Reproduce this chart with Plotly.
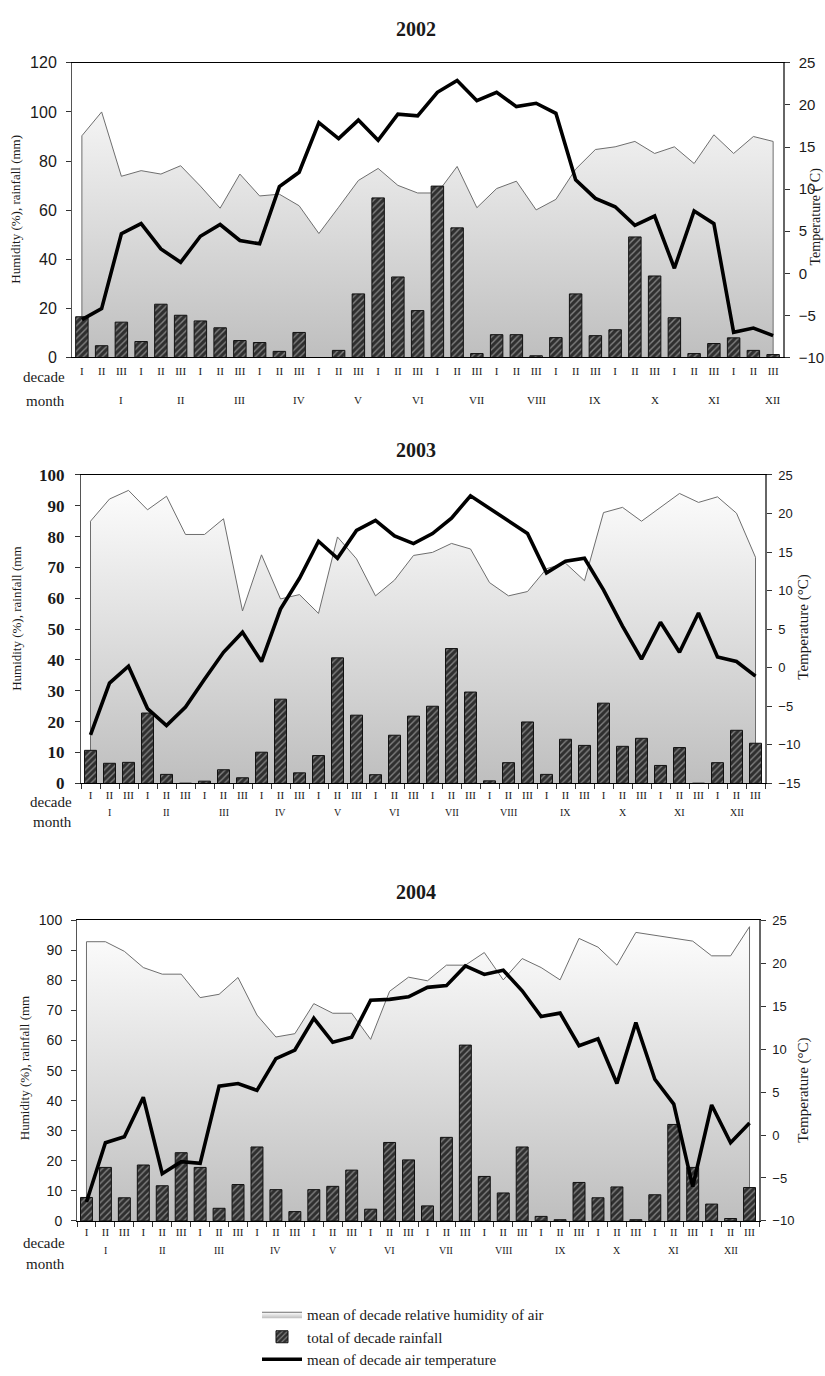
import plotly.graph_objects as go

W, H = 825, 1376

# ---- category labels -------------------------------------------------------
decade_labels = ["I", "II", "III"] * 12
month_labels = ["I", "II", "III", "IV", "V", "VI", "VII", "VIII", "IX", "X", "XI", "XII"]

# ---- 2002 ------------------------------------------------------------------
hum_2002 = [90.3, 100.0, 73.8, 76.1, 74.7, 78.1, 69.8, 60.8, 74.7, 65.8,
            66.5, 61.8, 50.5, 61.2, 72.1, 77.0, 70.1, 67.0, 67.0, 77.8,
            61.0, 68.8, 71.8, 60.1, 64.4, 76.7, 84.7, 85.8, 88.0, 83.1,
            85.8, 79.0, 90.7, 83.1, 90.0, 88.0]
rain_2002 = [16.6, 4.8, 14.4, 6.5, 21.7, 17.2, 14.9, 12.1, 6.9, 6.1,
             2.5, 10.2, 0.0, 2.9, 25.9, 65.0, 32.8, 19.1, 69.8, 52.8,
             1.6, 9.3, 9.3, 0.7, 8.1, 25.9, 8.9, 11.3, 49.1, 33.2,
             16.2, 1.6, 5.7, 8.0, 2.9, 1.2]
temp_2002 = [-5.5, -4.2, 4.7, 5.9, 2.9, 1.3, 4.4, 5.8, 3.9, 3.5,
             10.3, 12.0, 17.9, 16.0, 18.2, 15.8, 18.9, 18.7, 21.5, 22.9,
             20.5, 21.5, 19.8, 20.2, 19.0, 11.1, 8.9, 7.9, 5.7, 6.8,
             0.6, 7.4, 5.9, -7.0, -6.5, -7.4]

# ---- 2003 ------------------------------------------------------------------
hum_2003 = [85.0, 92.2, 95.0, 88.7, 93.1, 80.7, 80.7, 85.8, 55.9, 74.1,
            59.8, 61.2, 55.1, 79.9, 72.8, 60.8, 65.9, 73.9, 74.9, 77.8,
            76.0, 65.1, 60.8, 62.2, 69.6, 71.4, 65.7, 87.8, 89.5, 85.0,
            89.5, 94.0, 91.1, 92.9, 87.6, 73.3]
rain_2003 = [10.7, 6.5, 6.8, 22.8, 2.9, 0.0, 0.7, 4.4, 1.8, 10.1,
             27.3, 3.4, 9.0, 40.7, 22.1, 2.8, 15.6, 21.8, 25.0, 43.7,
             29.6, 0.8, 6.7, 19.9, 2.9, 14.3, 12.3, 26.0, 12.0, 14.6,
             5.8, 11.6, 0.0, 6.7, 17.2, 13.0]
temp_2003 = [-8.7, -2.0, 0.2, -5.3, -7.5, -5.1, -1.5, 2.0, 4.6, 0.8,
             7.6, 11.6, 16.4, 14.2, 17.8, 19.1, 17.1, 16.1, 17.4, 19.4,
             22.3, 20.7, 19.1, 17.4, 12.3, 13.8, 14.2, 10.1, 5.4, 1.1,
             5.9, 2.0, 7.1, 1.4, 0.8, -1.1]

# ---- 2004 ------------------------------------------------------------------
hum_2004 = [92.9, 92.9, 89.7, 84.3, 82.1, 82.1, 74.3, 75.4, 81.0, 68.5,
            61.2, 62.3, 72.3, 69.1, 69.1, 60.4, 76.4, 81.1, 79.9, 85.1,
            85.1, 89.3, 80.2, 87.3, 84.3, 80.2, 94.0, 91.1, 85.1, 96.0,
            95.1, 94.1, 93.1, 88.2, 88.2, 97.9]
rain_2004 = [7.8, 17.8, 7.7, 18.6, 11.7, 22.7, 17.8, 4.2, 12.1, 24.6,
             10.4, 3.1, 10.4, 11.5, 16.9, 3.9, 26.1, 20.3, 5.0, 27.8,
             58.5, 14.8, 9.3, 24.6, 1.5, 0.4, 12.8, 7.7, 11.3, 0.4,
             8.7, 32.1, 17.8, 5.6, 0.8, 11.1]
temp_2004 = [-7.8, -0.9, -0.2, 4.4, -4.5, -3.1, -3.3, 5.7, 6.0, 5.2,
             8.9, 9.9, 13.6, 10.8, 11.4, 15.7, 15.8, 16.1, 17.2, 17.4,
             19.7, 18.7, 19.2, 16.8, 13.8, 14.2, 10.4, 11.2, 6.0, 13.1,
             6.5, 3.6, -6.0, 3.5, -0.9, 1.4]

SERIF = "Liberation Serif, Times New Roman, serif"
NARROW = "Liberation Sans Narrow, Arial Narrow, Liberation Sans, sans-serif"
INK = "#1a1a1a"


def px(xp):
    return xp / W


def py(yp):
    return 1 - yp / H


panels = [
    dict(year="2002", hum=hum_2002, rain=rain_2002, temp=temp_2002,
         xdom=(72, 783), ydom=(55, 356), lrange=(0, 120), ldtick=20, rrange=(-10, 25),
         title_y=20, month_pos=2, decade_y=373, decade_word_y=376, month_y=399, month_word_y=400,
         words_x=67,
         ytitle="Humidity (%), rainfall (mm)", ytitle_xy=(16, 205),
         rtitle="Temperature (˚C)", rtitle_xy=(816, 212), rtitle_size=14,
         lfont=dict(family=NARROW, size=16, color=INK), rfont=dict(family=NARROW, size=15, color=INK),
         lstand=6, rstand=6, xticks=False, month_size=11),
    dict(year="2003", hum=hum_2003, rain=rain_2003, temp=temp_2003,
         xdom=(81, 765), ydom=(476, 791), lrange=(0, 100), ldtick=10, rrange=(-15, 25),
         title_y=450, month_pos=1, decade_y=806, decade_word_y=810, month_y=821, month_word_y=831,
         words_x=74,
         ytitle="Humidity (%), rainfall (mm", ytitle_xy=(17, 623),
         rtitle="Temperature (°C)", rtitle_xy=(804, 632), rtitle_size=15,
         lfont=dict(family=SERIF, size=17, color=INK, weight="bold"),
         rfont=dict(family=NARROW, size=13, color=INK),
         lstand=7, rstand=4, xticks=True, month_size=10),
    dict(year="2004", hum=hum_2004, rain=rain_2004, temp=temp_2004,
         xdom=(77, 759), ydom=(931, 1238), lrange=(0, 100), ldtick=10, rrange=(-10, 25),
         title_y=902, month_pos=1, decade_y=1253, decade_word_y=1261, month_y=1268, month_word_y=1282,
         words_x=67,
         ytitle="Humidity (%), rainfall (mm", ytitle_xy=(24, 1082),
         rtitle="Temperature (°C)", rtitle_xy=(804, 1105), rtitle_size=15,
         lfont=dict(family=NARROW, size=14, color=INK), rfont=dict(family=NARROW, size=13, color=INK),
         lstand=6, rstand=4, xticks=True, month_size=10),
]


def axis_name(kind, k):
    return kind if k == 1 else f"{kind}{k}"


def axis_key(kind, k):
    return f"{kind}axis" if k == 1 else f"{kind}axis{k}"


fig = go.Figure()
annotations = []
layout = {}
n = len(decade_labels)
idx = list(range(n))


def note(text, x, y, size, xref="paper", angle=0, xanchor="center", family=SERIF):
    annotations.append(dict(text=text, xref=xref, yref="paper", x=x, y=y,
                            xanchor=xanchor, yanchor="middle", textangle=angle,
                            showarrow=False, font=dict(family=family, size=size, color=INK)))


for i, p in enumerate(panels):
    xa = axis_name("x", i + 1)
    yl = axis_name("y", 3 * i + 1)   # humidity / rainfall scale (visible, left)
    yb = axis_name("y", 3 * i + 2)   # same scale, hidden, so bars sit above the area fill
    yr = axis_name("y", 3 * i + 3)   # temperature scale (right)
    first = i == 0

    # humidity: area under the line with a vertical grey gradient
    fig.add_trace(go.Scatter(
        x=[idx[0]] + idx + [idx[-1]], y=[0] + p["hum"] + [0],
        mode="lines", line=dict(color="#6e6e6e", width=1),
        fill="tozeroy",
        fillgradient=dict(type="vertical", start=p["lrange"][0], stop=p["lrange"][1],
                          colorscale=[[0, "#bebebe"], [1, "#ffffff"]]),
        name="mean of decade relative humidity of air",
        legendrank=1, showlegend=first, xaxis=xa, yaxis=yl, hoverinfo="skip"))

    # rainfall bars with diagonal hatching
    fig.add_trace(go.Bar(
        x=idx, y=p["rain"], width=0.63,
        marker=dict(color="#2f2f2f", line=dict(color="#111111", width=1),
                    pattern=dict(shape="/", fillmode="overlay", fgcolor="#d8d8d8",
                                 size=4.5, solidity=0.3)),
        name="total of decade rainfall", legendrank=2, showlegend=first,
        xaxis=xa, yaxis=yb))

    # air temperature on the right axis
    fig.add_trace(go.Scatter(
        x=idx, y=p["temp"], mode="lines", line=dict(color="#000000", width=3.6),
        name="mean of decade air temperature", legendrank=3, showlegend=first,
        xaxis=xa, yaxis=yr))

    xaxis = dict(domain=[px(p["xdom"][0]), px(p["xdom"][1])], anchor=yl,
                 range=[-0.5, n - 0.5], tickmode="array", tickvals=idx, ticktext=decade_labels,
                 ticks="", showline=True, linecolor="#000000", linewidth=1, mirror=True,
                 showgrid=False, zeroline=False,
                 tickfont=dict(family=SERIF, size=11, color=INK),
                 ticklabelstandoff=max(0, p["decade_y"] - p["ydom"][1] - 14))
    if p["xticks"]:
        xaxis["minor"] = dict(tickmode="array", tickvals=[k - 0.5 for k in range(n + 1)],
                              ticks="outside", ticklen=5, tickcolor="#333333", tickwidth=1)
    layout[axis_key("x", i + 1)] = xaxis

    layout[axis_key("y", 3 * i + 1)] = dict(
        domain=[py(p["ydom"][1]), py(p["ydom"][0])], anchor=xa,
        range=list(p["lrange"]), dtick=p["ldtick"], tick0=0,
        showline=True, linecolor="#555555", linewidth=1,
        ticks="outside", ticklen=5, tickcolor="#333333",
        showgrid=False, zeroline=False, tickfont=p["lfont"],
        ticklabelstandoff=p["lstand"])
    layout[axis_key("y", 3 * i + 2)] = dict(
        overlaying=yl, anchor=xa, range=list(p["lrange"]), visible=False,
        showgrid=False, zeroline=False)
    layout[axis_key("y", 3 * i + 3)] = dict(
        overlaying=yl, side="right", anchor=xa,
        range=list(p["rrange"]), dtick=5, tick0=0,
        showline=True, linecolor="#666666", linewidth=1.5,
        ticks="outside", ticklen=5, tickcolor="#333333",
        showgrid=False, zeroline=False, tickfont=p["rfont"],
        ticklabelstandoff=p["rstand"])

    # panel title
    note(f"<b>{p['year']}</b>", px(416), py(p["title_y"]), 20)
    # axis titles
    note(p["ytitle"], px(p["ytitle_xy"][0]), py(p["ytitle_xy"][1]), 13, angle=-90)
    note(p["rtitle"], px(p["rtitle_xy"][0]), py(p["rtitle_xy"][1]), p["rtitle_size"], angle=-90)
    # row captions
    note("decade", px(p["words_x"]), py(p["decade_word_y"]), 15, xanchor="right")
    note("month", px(p["words_x"]), py(p["month_word_y"]), 15, xanchor="right")
    # month labels under the decade row
    for m, lab in enumerate(month_labels):
        note(lab, 3 * m + p["month_pos"], py(p["month_y"]), p["month_size"], xref=xa)

fig.update_layout(
    width=W, height=H, margin=dict(l=0, r=0, t=0, b=0),
    paper_bgcolor="white", plot_bgcolor="white",
    bargap=0.37, annotations=annotations,
    legend=dict(x=px(257), y=py(1317), xanchor="left", yanchor="top",
                orientation="v", traceorder="normal", itemwidth=40,
                font=dict(family=SERIF, size=15, color=INK), bgcolor="rgba(0,0,0,0)",
                tracegroupgap=0),
    **layout,
)

fig.write_html("out.html")
